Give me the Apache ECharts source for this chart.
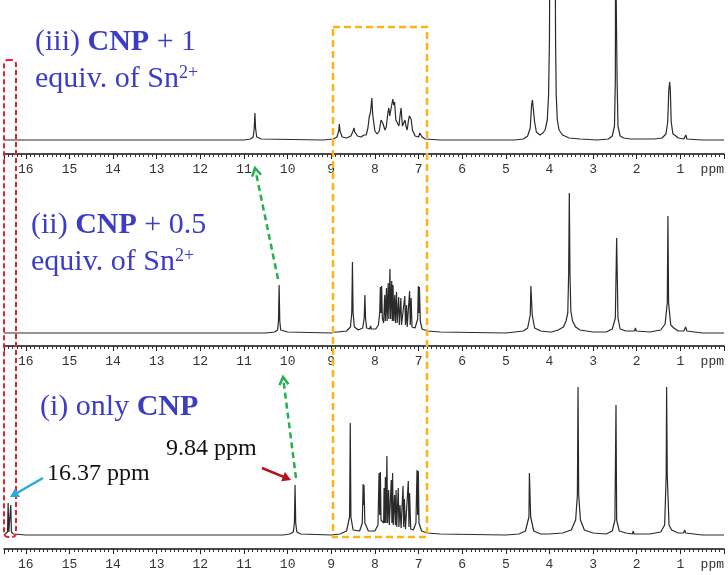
<!DOCTYPE html>
<html>
<head>
<meta charset="utf-8">
<script src="https://cdn.jsdelivr.net/npm/echarts@6/dist/echarts.min.js"></script>
<style>
html,body{margin:0;padding:0;background:#fff;}
#chart{width:728px;height:575px;}
</style>
</head>
<body>
<div id="chart"></div>
<script>
// ppm tick labels (shown on every panel)
var tickLabels = [16,15,14,13,12,11,10,9,8,7,6,5,4,3,2,1];
var axisUnit = 'ppm';

// spectrum traces: [chemical shift (ppm), intensity above baseline]
// (iii) CNP + 1 equiv. of Sn2+
var spectrumIII = [[16.5,0],[11.0,0],[10.85,1],[10.79,3],[10.765,12],[10.75,27],[10.735,12],[10.71,3],[10.6,1],[9.2,0],[8.95,1],[8.87,3],[8.83,9],[8.815,16],[8.80,9],[8.75,3],[8.65,2],[8.55,4],[8.50,9],[8.48,12],[8.46,8],[8.43,9],[8.40,4],[8.32,3],[8.25,5],[8.23,6],[8.20,5],[8.16,12],[8.13,23],[8.10,28],[8.07,42],[8.05,25],[8.0,9],[7.95,6],[7.90,9],[7.86,20],[7.84,22],[7.82,17],[7.81,17],[7.77,10],[7.74,13],[7.70,28],[7.68,32],[7.66,24],[7.62,26],[7.59,41],[7.57,35],[7.55,38],[7.52,20],[7.50,18],[7.48,22],[7.45,14],[7.42,26],[7.40,32],[7.37,14],[7.34,12],[7.31,20],[7.29,14],[7.26,10],[7.23,20],[7.21,24],[7.19,22],[7.17,21],[7.14,10],[7.08,4],[7.0,3],[6.97,7],[6.95,7],[6.92,3],[6.85,1],[6.5,0],[4.8,0],[4.6,1],[4.5,4],[4.44,12],[4.41,35],[4.39,40],[4.37,38],[4.34,18],[4.30,8],[4.22,5],[4.15,7],[4.10,10],[4.05,20],[4.02,45],[4.00,100],[3.99,200],[3.87,200],[3.86,100],[3.845,45],[3.82,20],[3.78,10],[3.70,5],[3.55,2],[3.3,1],[2.9,0],[2.65,1],[2.56,4],[2.51,14],[2.49,60],[2.485,200],[2.455,200],[2.45,60],[2.43,14],[2.38,4],[2.3,2],[2.15,1],[2.02,1],[2.0,3],[1.98,1],[1.6,1],[1.42,2],[1.33,6],[1.29,18],[1.265,50],[1.245,58],[1.23,50],[1.21,18],[1.17,6],[1.14,5],[1.10,4],[1.05,2],[0.92,1],[0.875,5],[0.85,1],[0.5,0],[0,0]];
// (ii) CNP + 0.5 equiv. of Sn2+
var spectrumII = [[16.5,0],[10.5,0],[10.3,1],[10.23,3],[10.21,12],[10.195,48],[10.18,12],[10.16,3],[10.0,1],[9.0,0],[8.9,1],[8.875,3],[8.85,1],[8.65,2],[8.56,6],[8.53,20],[8.515,71],[8.50,20],[8.47,6],[8.38,3],[8.28,5],[8.245,15],[8.23,38],[8.215,15],[8.19,5],[8.17,6],[8.15,4],[8.12,4],[8.10,7],[8.08,4],[7.98,4],[7.92,8],[7.89,20],[7.875,46],[7.86,20],[7.845,47],[7.83,15],[7.80,10],[7.775,38],[7.76,12],[7.735,45],[7.72,12],[7.695,50],[7.68,14],[7.655,64],[7.64,14],[7.615,52],[7.60,12],[7.585,48],[7.57,12],[7.545,38],[7.53,10],[7.505,41],[7.49,10],[7.455,36],[7.44,8],[7.405,35],[7.39,8],[7.35,6],[7.315,37],[7.30,8],[7.275,28],[7.26,6],[7.23,8],[7.205,42],[7.19,8],[7.17,35],[7.15,6],[7.08,5],[7.02,14],[7.005,47],[6.99,20],[6.98,46],[6.96,12],[6.92,4],[6.8,2],[6.5,1],[5.0,0],[4.6,2],[4.5,5],[4.44,18],[4.425,47],[4.41,47],[4.395,18],[4.34,5],[4.2,2],[4.0,1],[3.97,3],[3.95,1],[3.8,3],[3.68,6],[3.62,12],[3.58,20],[3.56,60],[3.545,140],[3.53,60],[3.51,22],[3.47,12],[3.40,6],[3.3,3],[3.0,1],[2.7,1],[2.56,4],[2.49,15],[2.46,95],[2.445,95],[2.43,15],[2.38,4],[2.25,2],[2.05,2],[2.03,5],[2.01,2],[1.7,1],[1.45,3],[1.35,9],[1.30,30],[1.285,117],[1.27,30],[1.22,8],[1.15,5],[1.12,4],[1.05,2],[0.92,2],[0.88,6],[0.85,2],[0.5,0],[0,0]];
// (i) only CNP
var spectrumI = [[16.5,0],[16.46,1],[16.42,3],[16.405,32],[16.39,3],[16.36,3],[16.345,30],[16.33,3],[16.28,1],[16.0,0],[10.1,0],[9.95,1],[9.87,3],[9.845,12],[9.83,50],[9.815,12],[9.79,3],[9.7,1],[9.0,0],[8.8,1],[8.65,4],[8.58,18],[8.565,112],[8.55,18],[8.5,5],[8.35,4],[8.29,12],[8.27,51],[8.26,30],[8.25,50],[8.23,12],[8.15,4],[8.0,4],[7.93,10],[7.905,62],[7.89,20],[7.875,63],[7.86,15],[7.80,12],[7.79,47],[7.775,12],[7.76,58],[7.745,12],[7.725,79],[7.71,12],[7.685,45],[7.67,10],[7.625,55],[7.61,12],[7.595,62],[7.58,10],[7.55,40],[7.53,10],[7.515,45],[7.50,8],[7.465,47],[7.45,8],[7.425,30],[7.40,7],[7.355,49],[7.34,8],[7.325,36],[7.30,6],[7.235,54],[7.22,8],[7.205,42],[7.18,6],[7.12,5],[7.06,12],[7.035,65],[7.02,20],[7.005,64],[6.99,12],[6.93,4],[6.8,2],[6.5,1],[5.0,0],[4.7,1],[4.55,4],[4.47,18],[4.46,62],[4.44,62],[4.43,18],[4.36,4],[4.2,1],[4.02,1],[4.0,3],[3.98,1],[3.7,2],[3.5,5],[3.40,15],[3.36,40],[3.345,148],[3.33,40],[3.29,15],[3.2,5],[3.0,2],[2.7,1],[2.56,4],[2.50,15],[2.475,130],[2.46,15],[2.40,4],[2.25,2],[2.10,1],[2.08,4],[2.06,1],[1.7,1],[1.45,3],[1.36,10],[1.325,60],[1.315,148],[1.30,60],[1.26,10],[1.20,5],[1.18,6],[1.15,4],[1.05,2],[0.93,2],[0.90,5],[0.88,2],[0.5,0],[0,0]];

var panels = [
  {data: spectrumIII, top: 0,   height: 154, yMin: -14, yMax: 140},
  {data: spectrumII,  top: 190, height: 156, yMin: -13, yMax: 143},
  {data: spectrumI,   top: 384, height: 165, yMin: -14, yMax: 151}
];

var chart = echarts.init(document.getElementById('chart'), null, {renderer: 'canvas'});

var grids = [], xAxes = [], yAxes = [], series = [];
panels.forEach(function (p, i) {
  grids.push({left: 4, right: 4, top: p.top, height: p.height});
  xAxes.push({
    type: 'value', gridIndex: i, min: 0, max: 16.5, interval: 1, inverse: true,
    axisLine: {show: true, onZero: false, lineStyle: {color: '#111', width: 1.5}},
    axisTick: {show: true, length: 5, lineStyle: {color: '#222', width: 1}},
    minorTick: {show: true, splitNumber: 10, length: 3, lineStyle: {color: '#333', width: 1}},
    splitLine: {show: false},
    axisLabel: {
      show: true, margin: 9, color: '#333', fontSize: 13, fontFamily: 'Liberation Mono',
      showMaxLabel: false, alignMinLabel: 'right',
      formatter: function (v) { return v === 0 ? axisUnit : (tickLabels.indexOf(v) >= 0 ? String(v) : ''); }
    }
  });
  yAxes.push({type: 'value', gridIndex: i, min: p.yMin, max: p.yMax, show: false});
  series.push({
    type: 'line', xAxisIndex: i, yAxisIndex: i, data: p.data, showSymbol: false,
    lineStyle: {color: '#2a2a2a', width: 1.2}, clip: true, animation: false, silent: true
  });
});

function arrow(x1, y1, x2, y2, color, width, dashed, head, filled) {
  var dx = x2 - x1, dy = y2 - y1, len = Math.sqrt(dx * dx + dy * dy);
  var ux = -dx / len, uy = -dy / len, a = Math.PI / 6;
  var p1 = [x2 + head * (ux * Math.cos(a) - uy * Math.sin(a)), y2 + head * (ux * Math.sin(a) + uy * Math.cos(a))];
  var p2 = [x2 + head * (ux * Math.cos(-a) - uy * Math.sin(-a)), y2 + head * (ux * Math.sin(-a) + uy * Math.cos(-a))];
  var els = [{
    type: 'line', shape: {x1: x1, y1: y1, x2: filled ? x2 + ux * head * 0.6 : x2, y2: filled ? y2 + uy * head * 0.6 : y2},
    style: {stroke: color, lineWidth: width, lineDash: dashed ? [6, 4] : null}, z: 10
  }];
  if (filled) {
    els.push({type: 'polygon', shape: {points: [p1, [x2, y2], p2]}, style: {fill: color}, z: 10});
  } else {
    els.push({type: 'polyline', shape: {points: [p1, [x2, y2], p2]}, style: {stroke: color, lineWidth: width}, z: 10});
  }
  return els;
}

var blue = '#3c3dc4';
var serif = '"Liberation Serif", "Times New Roman", serif';
var graphics = [
  {type: 'rect', shape: {x: 4, y: 60, width: 12, height: 477, r: 4}, style: {fill: null, stroke: '#ee1c25', lineWidth: 2, lineDash: [5, 3]}, z: 9},
  {type: 'rect', shape: {x: 333, y: 27, width: 94, height: 510}, style: {fill: null, stroke: '#ffb414', lineWidth: 2.5, lineDash: [7, 4]}, z: 9},
  {type: 'text', x: 35, y: 42, z: 11, style: {text: '(iii) {b|CNP} + 1', font: '30px ' + serif, fill: blue, verticalAlign: 'middle',
    rich: {b: {fontWeight: 'bold', fontSize: 30, fontFamily: serif, fill: blue}}}},
  {type: 'text', x: 35, y: 79, z: 11, style: {text: 'equiv. of Sn{s|2+}', font: '30px ' + serif, fill: blue, verticalAlign: 'middle',
    rich: {s: {fontSize: 18, fontFamily: serif, fill: blue, verticalAlign: 'top'}}}},
  {type: 'text', x: 31, y: 225, z: 11, style: {text: '(ii) {b|CNP} + 0.5', font: '30px ' + serif, fill: blue, verticalAlign: 'middle',
    rich: {b: {fontWeight: 'bold', fontSize: 30, fontFamily: serif, fill: blue}}}},
  {type: 'text', x: 31, y: 262, z: 11, style: {text: 'equiv. of Sn{s|2+}', font: '30px ' + serif, fill: blue, verticalAlign: 'middle',
    rich: {s: {fontSize: 18, fontFamily: serif, fill: blue, verticalAlign: 'top'}}}},
  {type: 'text', x: 40, y: 407, z: 11, style: {text: '(i) only {b|CNP}', font: '30px ' + serif, fill: blue, verticalAlign: 'middle',
    rich: {b: {fontWeight: 'bold', fontSize: 30, fontFamily: serif, fill: blue}}}},
  {type: 'text', x: 166, y: 449, z: 11, style: {text: '9.84 ppm', font: '24px ' + serif, fill: '#111', verticalAlign: 'middle'}},
  {type: 'text', x: 47, y: 474, z: 11, style: {text: '16.37 ppm', font: '24px ' + serif, fill: '#111', verticalAlign: 'middle'}}
];
graphics = graphics
  .concat(arrow(278, 279, 255, 168, '#22b14c', 2.5, true, 9, false))
  .concat(arrow(296, 478, 283, 377, '#22b14c', 2.5, true, 9, false))
  .concat(arrow(262, 468, 291, 480, '#b5121b', 2.5, false, 10, true))
  .concat(arrow(43, 478, 10, 497, '#29abe2', 2.5, false, 10, true));

chart.setOption({
  backgroundColor: '#ffffff',
  animation: false,
  grid: grids,
  xAxis: xAxes,
  yAxis: yAxes,
  series: series,
  graphic: graphics
});
</script>
</body>
</html>
